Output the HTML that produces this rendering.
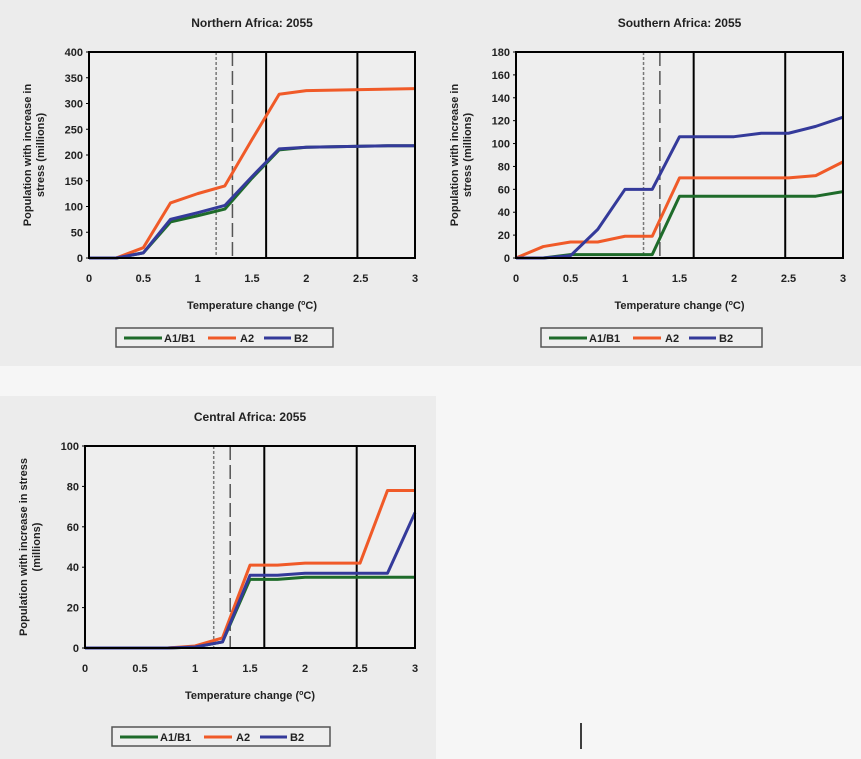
<!DOCTYPE html>
<html><head><meta charset="utf-8"><style>
body{margin:0;background:#f6f6f6;}
#wrap{position:relative;width:861px;height:759px;overflow:hidden;font-family:"Liberation Sans",sans-serif;}
svg text{font-family:"Liberation Sans",sans-serif;font-weight:bold;fill:#222;}
</style></head><body>
<div id="wrap">
<svg id="svg" width="861" height="759">
<rect x="0" y="0" width="861" height="366" fill="#ececec"/>
<rect x="0" y="396" width="436" height="363" fill="#ececec"/>
<line x1="581" y1="723" x2="581" y2="749" stroke="#000" stroke-width="1.5"/>
</svg>
</div>
<script>
const xCats=[0,0.25,0.5,0.75,1,1.25,1.5,1.75,2,2.25,2.5,2.75,3];
const xTicks=[0,0.5,1,1.5,2,2.5,3];
const refLines=[{x:1.17,style:"dot"},{x:1.32,style:"dash"},{x:1.63,style:"solid"},{x:2.47,style:"solid"}];
const northA1B1=[0,0,10,70,82,95,155,210,215,216,217,218,218];
const northA2=[0,0,20,107,125,140,230,318,325,326,327,328,329];
const northB2=[0,0,10,75,88,102,158,212,215,216,217,218,218];
const northTicks=[0,50,100,150,200,250,300,350,400];
const southA1B1=[0,0,3,3,3,3,54,54,54,54,54,54,58];
const southA2=[0,10,14,14,19,19,70,70,70,70,70,72,84];
const southB2=[0,0,2,25,60,60,106,106,106,109,109,115,123];
const southTicks=[0,20,40,60,80,100,120,140,160,180];
const centralA1B1=[0,0,0,0,0.5,3,34,34,35,35,35,35,35];
const centralA2=[0,0,0,0,1,5,41,41,42,42,42,78,78];
const centralB2=[0,0,0,0,0.5,3,36,36,37,37,37,37,67];
const centralTicks=[0,20,40,60,80,100];
const seriesNames=["A1/B1","A2","B2"];
const colors=["#1e6b2a","#f05a28","#343a9a"];
const svg=document.getElementById('svg');
const NS="http://www.w3.org/2000/svg";
function mk(tag,attrs,parent){const e=document.createElementNS(NS,tag);for(const k in attrs)e.setAttribute(k,attrs[k]);(parent||svg).appendChild(e);return e;}
function chart(id,cfg){
  const g=mk('g',{});
  
  
  const {L,R,T,B,ymax,ticks,series,title,ytitle,leg}=cfg;
  const sx=v=>L+(v/3)*(R-L), sy=v=>B-(v/ymax)*(B-T);
  mk('rect',{x:L,y:T,width:R-L,height:B-T,fill:"#eeeeee"},g);
  const t=mk('text',{x:(L+R)/2,y:T-25,'text-anchor':'middle','font-size':12},g);t.textContent=title;
  
  
  refLines.forEach(r=>{
    const a={x1:sx(r.x),x2:sx(r.x),y1:T,y2:B,stroke:"#000"};
    if(r.style==="dot"){a.stroke="#777";a['stroke-width']=1.5;a['stroke-dasharray']="3,2";}
    else if(r.style==="dash"){a.stroke="#555";a['stroke-width']=1.5;a['stroke-dasharray']="14,5";}
    else a['stroke-width']=2;
    const l=mk('line',a,g);
    
    
  });
  series.forEach((s,i)=>{
    const p=mk('polyline',{points:xCats.map((x,j)=>sx(x)+","+sy(s[j])).join(" "),fill:"none",stroke:colors[i],'stroke-width':3,'stroke-linejoin':'round'},g);
    
    
  });
  mk('rect',{x:L,y:T,width:R-L,height:B-T,fill:"none",stroke:"#000",'stroke-width':2},g);
  ticks.forEach(v=>{
    const tx=mk('text',{x:L-6,y:sy(v)+4,'text-anchor':'end','font-size':11},g);tx.textContent=v;
    
    
    mk('line',{x1:L-3,x2:L,y1:sy(v),y2:sy(v),stroke:"#000"},g);
  });
  xTicks.forEach(v=>{
    const tx=mk('text',{x:sx(v),y:B+24,'text-anchor':'middle','font-size':11},g);tx.textContent=v;
    
    
  });
  const xt=mk('text',{x:(L+R)/2,y:B+51,'text-anchor':'middle','font-size':11},g);
  xt.innerHTML='Temperature change (<tspan dy="-4" font-size="7">o</tspan><tspan dy="4">C)</tspan>';
  
  
  const cy=(T+B)/2;
  const yt=mk('text',{transform:`translate(${L-58},${cy}) rotate(-90)`,'text-anchor':'middle','font-size':11},g);
  
  
  ytitle.forEach((line,i)=>{const ts=mk('tspan',{x:0,dy:i===0?0:13},yt);ts.textContent=line;});
  const lg=mk('g',{},g);
  
  
  mk('rect',{x:leg[0],y:leg[1],width:leg[2],height:19,fill:"#eeeeee",stroke:"#555",'stroke-width':1.5},lg);
  const offs=[[8,46,48],[92,120,124],[148,175,178]];
  seriesNames.forEach((n,i)=>{
    mk('line',{x1:leg[0]+offs[i][0],x2:leg[0]+offs[i][1],y1:leg[1]+10,y2:leg[1]+10,stroke:colors[i],'stroke-width':3},lg);
    const lt=mk('text',{x:leg[0]+offs[i][2],y:leg[1]+14,'font-size':11},lg);lt.textContent=n;
    
    
  });
}
chart('northern-africa',{L:89,R:415,T:52,B:258,ymax:400,ticks:northTicks,series:[northA1B1,northA2,northB2],title:"Northern Africa: 2055",ytitle:["Population with increase in","stress (millions)"],leg:[116,328,217]});
chart('southern-africa',{L:516,R:843,T:52,B:258,ymax:180,ticks:southTicks,series:[southA1B1,southA2,southB2],title:"Southern Africa: 2055",ytitle:["Population with increase in","stress (millions)"],leg:[541,328,221]});
chart('central-africa',{L:85,R:415,T:446,B:648,ymax:100,ticks:centralTicks,series:[centralA1B1,centralA2,centralB2],title:"Central Africa: 2055",ytitle:["Population with increase in stress","(millions)"],leg:[112,727,218]});
</script>
</body></html>
